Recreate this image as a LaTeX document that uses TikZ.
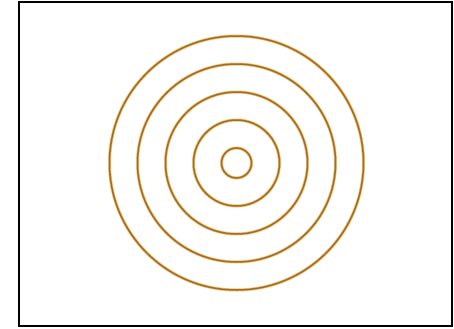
\documentclass[tikz,border=0pt]{standalone}
\usepackage{tikz}
\definecolor{ringbrown}{HTML}{9E6F2A}
\definecolor{ringglow}{HTML}{F0AE45}

\begin{document}
\begin{tikzpicture}[x=0.5mm,y=-0.5mm]
    \tikzset{frame/.style={draw=black,line width=0.8mm}, ring/.style={draw=ringglow!80,line width=1.5mm}, ringcore/.style={draw=ringbrown,line width=0.75mm}}
    \useasboundingbox (0,0) rectangle (454,328);
    \draw[frame] (19,2) rectangle (452,326);
    \coordinate (centre) at (236.5,163);
    \foreach \r in {15,43,71,99,127} {
      \draw[ring] (centre) circle[radius=\r];
      \draw[ringcore] (centre) circle[radius=\r];
    }
  \end{tikzpicture}
\end{document}
